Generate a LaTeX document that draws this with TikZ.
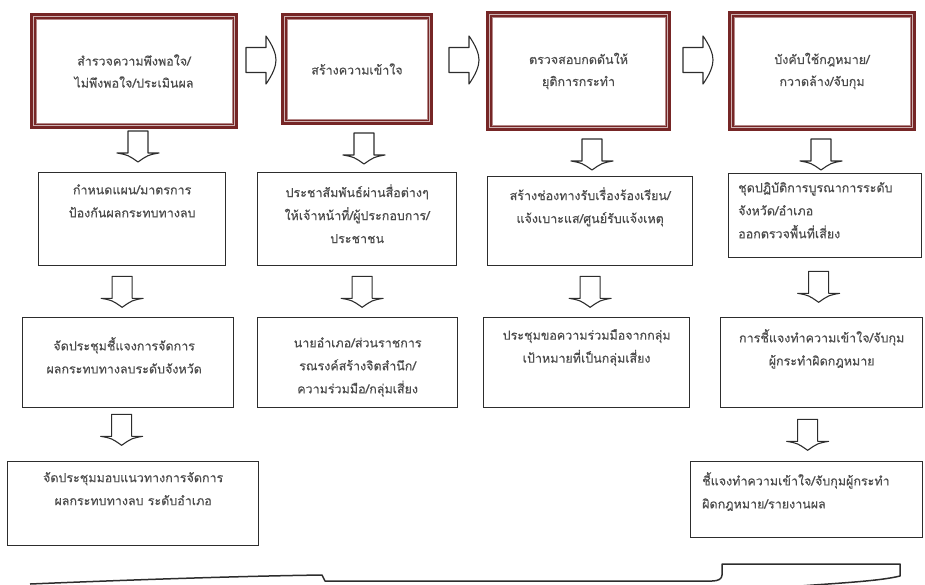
\documentclass[tikz,border=0pt]{standalone}
\usepackage{fontspec}
\newfontfamily\thaifont[Script=Thai,FakeBold=0.4]{Loma}
\usetikzlibrary{calc}
\definecolor{frame}{RGB}{118,38,38}
\definecolor{ink}{RGB}{45,45,45}
\tikzset{
  headbox/.style={draw=frame, line width=6pt, anchor=north west, inner sep=0pt,
    font=\thaifont\fontsize{12.5}{22}\selectfont, text=ink!85, align=center},
  stepbox/.style={draw=ink, line width=1.3pt, anchor=north west, inner sep=0pt},
  txt/.style={font=\thaifont\fontsize{12.5}{23}\selectfont, text=ink!85, align=center,
    inner sep=0pt, anchor=north},
  ltxt/.style={txt, align=left, anchor=north west},
  innerline/.style={draw=frame!55, line width=0.8pt},
  downarr/.pic={\draw[ink, line width=1.1pt, fill=white, line join=round]
    (-10,0) -- (-10,22) -- (-21,22) .. controls (-10,24) .. (0,31)
    .. controls (10,24) .. (21,22) -- (10,22) -- (10,0) -- cycle;},
  rightarr/.pic={\draw[ink, line width=1.1pt, fill=white, line join=round]
    (0,-12.5) -- (20,-12.5) -- (20,-24) .. controls (27,-14) and (30,-6) .. (30,0)
    .. controls (30,6) and (27,14) .. (20,24) -- (20,12.5) -- (0,12.5) -- cycle;}
}
\begin{document}
\begin{tikzpicture}[x=1pt,y=-1pt]
\useasboundingbox (0,0) rectangle (925,584);

% framed headings
\node[headbox, minimum width=202pt, minimum height=110pt] (T1) at (30,13)
  {สำรวจความพึงพอใจ/\\ไม่พึงพอใจ/ประเมินผล};
\node[headbox, minimum width=146pt, minimum height=106pt] (T2) at (281,13)
  {สร้างความเข้าใจ};
\node[headbox, minimum width=179pt, minimum height=114pt] (T3) at (486,11)
  {ตรวจสอบกดดันให้\\ยุติการกระทำ};
\node[headbox, minimum width=182pt, minimum height=114pt] (T4) at (728,11)
  {บังคับใช้กฎหมาย/\\กวาดล้าง/จับกุม};
\foreach \t in {T1,T2,T3,T4}{
  \draw[innerline] ([shift={(6,6)}]\t.north west) rectangle ([shift={(-6,-6)}]\t.south east);
  \draw[draw=frame!35, line width=0.6pt] ([shift={(3.6,3.6)}]\t.north west) rectangle ([shift={(-3.6,-3.6)}]\t.south east);
}

% step boxes
\node[stepbox, minimum width=187pt, minimum height=93pt] (R2a) at (38,172) {};
\node[stepbox, minimum width=199pt, minimum height=93pt] (R2b) at (257,172) {};
\node[stepbox, minimum width=205pt, minimum height=89pt] (R2c) at (487,176) {};
\node[stepbox, minimum width=193pt, minimum height=84pt] (R2d) at (728,173) {};
\node[stepbox, minimum width=211pt, minimum height=90pt] (R3a) at (22,317) {};
\node[stepbox, minimum width=200pt, minimum height=90pt] (R3b) at (257,317) {};
\node[stepbox, minimum width=206pt, minimum height=90pt] (R3c) at (483,317) {};
\node[stepbox, minimum width=202pt, minimum height=90pt] (R3d) at (720,317) {};
\node[stepbox, minimum width=251pt, minimum height=84pt] (R4a) at (7,461) {};
\node[stepbox, minimum width=232pt, minimum height=76pt] (R4d) at (690,461) {};

% step texts
\node[txt] (R2at) at ($(R2a.north)+(0,12)$) {กำหนดแผน/มาตรการ\\ป้องกันผลกระทบทางลบ};
\node[txt] (R2bt) at ($(R2b.north)+(0,12)$) {ประชาสัมพันธ์ผ่านสื่อต่างๆ\\ให้เจ้าหน้าที่/ผู้ประกอบการ/\\ประชาชน};
\node[txt] (R2ct) at ($(R2c.north)+(0,11)$) {สร้างช่องทางรับเรื่องร้องเรียน/\\แจ้งเบาะแส/ศูนย์รับแจ้งเหตุ};
\node[ltxt] (R2dt) at ($(R2d.north west)+(10,9)$) {ชุดปฏิบัติการบูรณาการระดับ\\จังหวัด/อำเภอ\\ออกตรวจพื้นที่เสี่ยง};
\node[txt] (R3at) at ($(R3a.north)+(-4,20)$) {จัดประชุมชี้แจงการจัดการ\\ผลกระทบทางลบระดับจังหวัด};
\node[txt] (R3bt) at ($(R3b.north)+(0,20)$) {นายอำเภอ/ส่วนราชการ\\รณรงค์สร้างจิตสำนึก/\\ความร่วมมือ/กลุ่มเสี่ยง};
\node[txt] (R3ct) at ($(R3c.north)+(0,12)$) {ประชุมขอความร่วมมือจากกลุ่ม\\เป้าหมายที่เป็นกลุ่มเสี่ยง};
\node[txt] (R3dt) at ($(R3d.north)+(0,12)$) {การชี้แจงทำความเข้าใจ/จับกุม\\ผู้กระทำผิดกฎหมาย};
\node[txt] (R4at) at ($(R4a.north)+(0,11)$) {จัดประชุมมอบแนวทางการจัดการ\\ผลกระทบทางลบ ระดับอำเภอ};
\node[ltxt] (R4dt) at ($(R4d.north west)+(12,11)$) {ชี้แจงทำความเข้าใจ/จับกุมผู้กระทำ\\ผิดกฎหมาย/รายงานผล};

% block arrows between headings
\pic at ($(T1.east)+(8,-11)$) {rightarr};
\pic at ($(T2.east)+(16,-9)$) {rightarr};
\pic at ($(T3.east)+(12,-11)$) {rightarr};

% block arrows down each column
\pic at ($(T1.south)+(4,2)$) {downarr};
\pic at ($(T2.south)+(7,8)$) {downarr};
\pic at ($(T3.south)+(13.5,8)$) {downarr};
\pic at ($(T4.south)+(-1,8)$) {downarr};
\pic at ($(R2a.south)+(-10,10)$) {downarr};
\pic at ($(R2b.south)+(5,10)$) {downarr};
\pic at ($(R2c.south)+(0,10)$) {downarr};
\pic at ($(R2d.south)+(-6.5,13)$) {downarr};
\pic at ($(R3a.south)+(-6.5,6)$) {downarr};
\pic at ($(R3d.south)+(-14,11)$) {downarr};

% brace along the bottom
\draw[ink, line width=1.5pt, line join=round]
  (30,584) .. controls (150,579) and (250,576) .. (322,575) -- (325,581)
  -- (712,581) .. controls (718,581) and (722,579) .. (722,575) -- (722,564)
  -- (900,564) -- (900,576) .. controls (880,581) and (840,583) .. (800,586);
\end{tikzpicture}
\end{document}
